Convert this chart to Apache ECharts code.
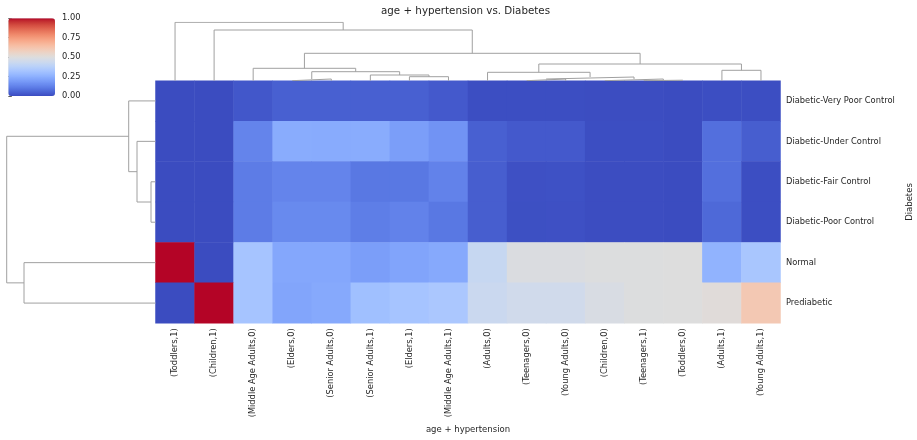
<!DOCTYPE html>
<html>
<head>
<meta charset="utf-8">
<script src="https://cdn.jsdelivr.net/npm/echarts@6/dist/echarts.min.js"></script>
<style>html,body{margin:0;padding:0;background:#fff}#c{width:917px;height:440px}</style>
</head>
<body>
<div id="c"></div>
<script>
// ---- data ----
const columns = ['(Toddlers,1)', '(Children,1)', '(Middle Age Adults,0)', '(Elders,0)', '(Senior Adults,0)', '(Senior Adults,1)', '(Elders,1)', '(Middle Age Adults,1)', '(Adults,0)', '(Teenagers,0)', '(Young Adults,0)', '(Children,0)', '(Teenagers,1)', '(Toddlers,0)', '(Adults,1)', '(Young Adults,1)'];
const rows = ['Diabetic-Very Poor Control', 'Diabetic-Under Control', 'Diabetic-Fair Control', 'Diabetic-Poor Control', 'Normal', 'Prediabetic'];

const veryPoor     = [0, 0, 0.025, 0.045, 0.045, 0.045, 0.045, 0.03, 0.005, 0.005, 0.005, 0.003, 0.003, 0, 0.005, 0.005];
const underControl = [0, 0, 0.13, 0.24, 0.235, 0.24, 0.2, 0.17, 0.045, 0.03, 0.03, 0.005, 0.005, 0, 0.08, 0.04];
const fairControl  = [0, 0, 0.11, 0.13, 0.13, 0.1, 0.1, 0.125, 0.04, 0.01, 0.012, 0.003, 0.002, 0, 0.08, 0.005];
const poorControl  = [0, 0, 0.11, 0.145, 0.145, 0.115, 0.125, 0.1, 0.04, 0.008, 0.01, 0.003, 0.002, 0, 0.065, 0.005];
const normal       = [1, 0, 0.32, 0.225, 0.225, 0.2, 0.215, 0.23, 0.42, 0.49, 0.49, 0.495, 0.495, 0.5, 0.26, 0.33];
const prediabetic  = [0, 1, 0.32, 0.22, 0.23, 0.305, 0.32, 0.335, 0.43, 0.45, 0.45, 0.48, 0.495, 0.5, 0.51, 0.61];

// column dendrogram linkage: [childA, childB, height] (leaves 0..15 in display order)
const colLinkage = [
  [12, 13, 0.5], [3, 4, 1.7], [9, 10, 1.7], [11, 16, 1.7], [18, 19, 3.7],
  [6, 7, 4.0], [5, 21, 5.7], [8, 20, 8.4], [17, 22, 9.0], [14, 15, 10.4],
  [2, 24, 12.4], [23, 25, 16.7], [26, 27, 27.4], [1, 28, 50.7], [0, 29, 58.4]
];
// row dendrogram linkage (leaves 0..5 in display order)
const rowLinkage = [
  [2, 3, 4.5], [1, 6, 18.5], [0, 7, 26.8], [4, 5, 131.5], [8, 9, 148.8]
];
const colorbarTicks = [0, 0.25, 0.5, 0.75, 1];

// ---- styles ----
const coolwarm = ['#3b4cc0','#445acc','#4d68d7','#5775e1','#6282ea','#6c8ef1','#779af7','#82a5fb','#8db0fe','#98b9ff','#a3c2ff','#aec9fd','#b8d0f9','#c2d5f4','#ccd9ee','#d5dbe6','#dddddd','#e5d8d1','#ecd3c5','#f1ccb9','#f5c4ad','#f7bba0','#f7b194','#f7a687','#f49a7b','#f18d6f','#ec7f63','#e57058','#de604d','#d55042','#cb3e38','#c0282f','#b40426'];
const FONT = 'DejaVu Sans';
const TXT = '#262626';
const LINE = '#a0a0a0';

const G = { left: 155.5, top: 80.7, width: 625, height: 242.6 };

const rowValues = [veryPoor, underControl, fairControl, poorControl, normal, prediabetic];
const heatData = [];
rowValues.forEach((vals, r) => vals.forEach((v, c) => heatData.push([c, r, v])));

const series = [{
  type: 'heatmap', xAxisIndex: 0, yAxisIndex: 0, data: heatData,
  itemStyle: { borderWidth: 0 }, emphasis: { disabled: true }, silent: true, animation: false
}];

function dendro(linkage, n, xi, yi, horizontal) {
  const pos = [], hgt = [];
  for (let i = 0; i < n; i++) { pos[i] = i + 0.5; hgt[i] = 0; }
  linkage.forEach(([a, b, h], k) => {
    const id = n + k;
    pos[id] = (pos[a] + pos[b]) / 2; hgt[id] = h;
    let pts = [[pos[a], hgt[a]], [pos[a], h], [pos[b], h], [pos[b], hgt[b]]];
    if (horizontal) pts = pts.map(p => [p[1], p[0]]);
    series.push({
      type: 'line', xAxisIndex: xi, yAxisIndex: yi, data: pts, symbol: 'none',
      lineStyle: { color: LINE, width: 1 }, silent: true, animation: false, z: 3
    });
  });
}
dendro(colLinkage, columns.length, 1, 1, false);
dendro(rowLinkage, rows.length, 2, 2, true);

const NB = { outerBoundsMode: 'none', containLabel: false };
const option = {
  animation: false,
  title: {
    text: 'age + hypertension vs. Diabetes', left: 381, top: 6,
    textStyle: { fontFamily: FONT, fontSize: 10.3, fontWeight: 'normal', color: TXT }, padding: 0
  },
  grid: [
    Object.assign({ left: G.left, top: G.top, width: G.width, height: G.height }, NB),
    Object.assign({ left: G.left, top: 22.3, width: G.width, height: G.top - 22.3 }, NB),
    Object.assign({ left: 6.7, top: G.top, width: G.left - 6.7, height: G.height }, NB),
    Object.assign({ left: 8.3, top: 18.3, width: 46.7, height: 77.7 }, NB)
  ],
  xAxis: [
    {
      type: 'category', gridIndex: 0, data: columns, position: 'bottom',
      axisLine: { show: false }, splitLine: { show: false },
      axisTick: { alignWithLabel: true, length: 3.5, lineStyle: { color: '#333', width: 0.8 } },
      axisLabel: { rotate: 90, fontFamily: FONT, fontSize: 8.3, color: TXT, margin: 5, interval: 0 },
      name: 'age + hypertension', nameLocation: 'middle', nameGap: 101,
      nameTextStyle: { fontFamily: FONT, fontSize: 8.5, color: TXT }
    },
    { type: 'value', gridIndex: 1, min: 0, max: columns.length, show: false },
    { type: 'value', gridIndex: 2, min: 0, max: rowLinkage[rowLinkage.length - 1][2], inverse: true, show: false },
    { type: 'value', gridIndex: 3, min: 0, max: 1, show: false }
  ],
  yAxis: [
    {
      type: 'category', gridIndex: 0, data: rows, inverse: true, position: 'right',
      axisLine: { show: false }, splitLine: { show: false },
      axisTick: { alignWithLabel: true, length: 3.5, lineStyle: { color: '#333', width: 0.8 } },
      axisLabel: { fontFamily: FONT, fontSize: 8.3, color: TXT, margin: 5.5 },
      name: 'Diabetes', nameLocation: 'middle', nameRotate: 90, nameGap: 119.5,
      nameTextStyle: { fontFamily: FONT, fontSize: 8.5, color: TXT }
    },
    { type: 'value', gridIndex: 1, min: 0, max: colLinkage[colLinkage.length - 1][2], show: false },
    { type: 'value', gridIndex: 2, min: 0, max: rows.length, inverse: true, show: false },
    {
      type: 'value', gridIndex: 3, min: colorbarTicks[0], max: colorbarTicks[colorbarTicks.length - 1],
      interval: colorbarTicks[1] - colorbarTicks[0], position: 'right',
      axisLine: { show: false }, splitLine: { show: false },
      axisTick: { show: true, length: 3.5, lineStyle: { color: '#333', width: 0.8 } },
      axisLabel: { fontFamily: FONT, fontSize: 8.3, color: TXT, margin: 7, formatter: v => v.toFixed(2) }
    }
  ],
  visualMap: {
    type: 'continuous', min: 0, max: 1, seriesIndex: 0, calculable: false,
    left: 8.3, top: 18.3, itemWidth: 46.7, itemHeight: 77.7, padding: 0,
    inRange: { color: coolwarm }, text: null, hoverLink: false
  },
  series
};
echarts.init(document.getElementById('c'), null, { renderer: 'canvas' }).setOption(option);
</script>
</body>
</html>
